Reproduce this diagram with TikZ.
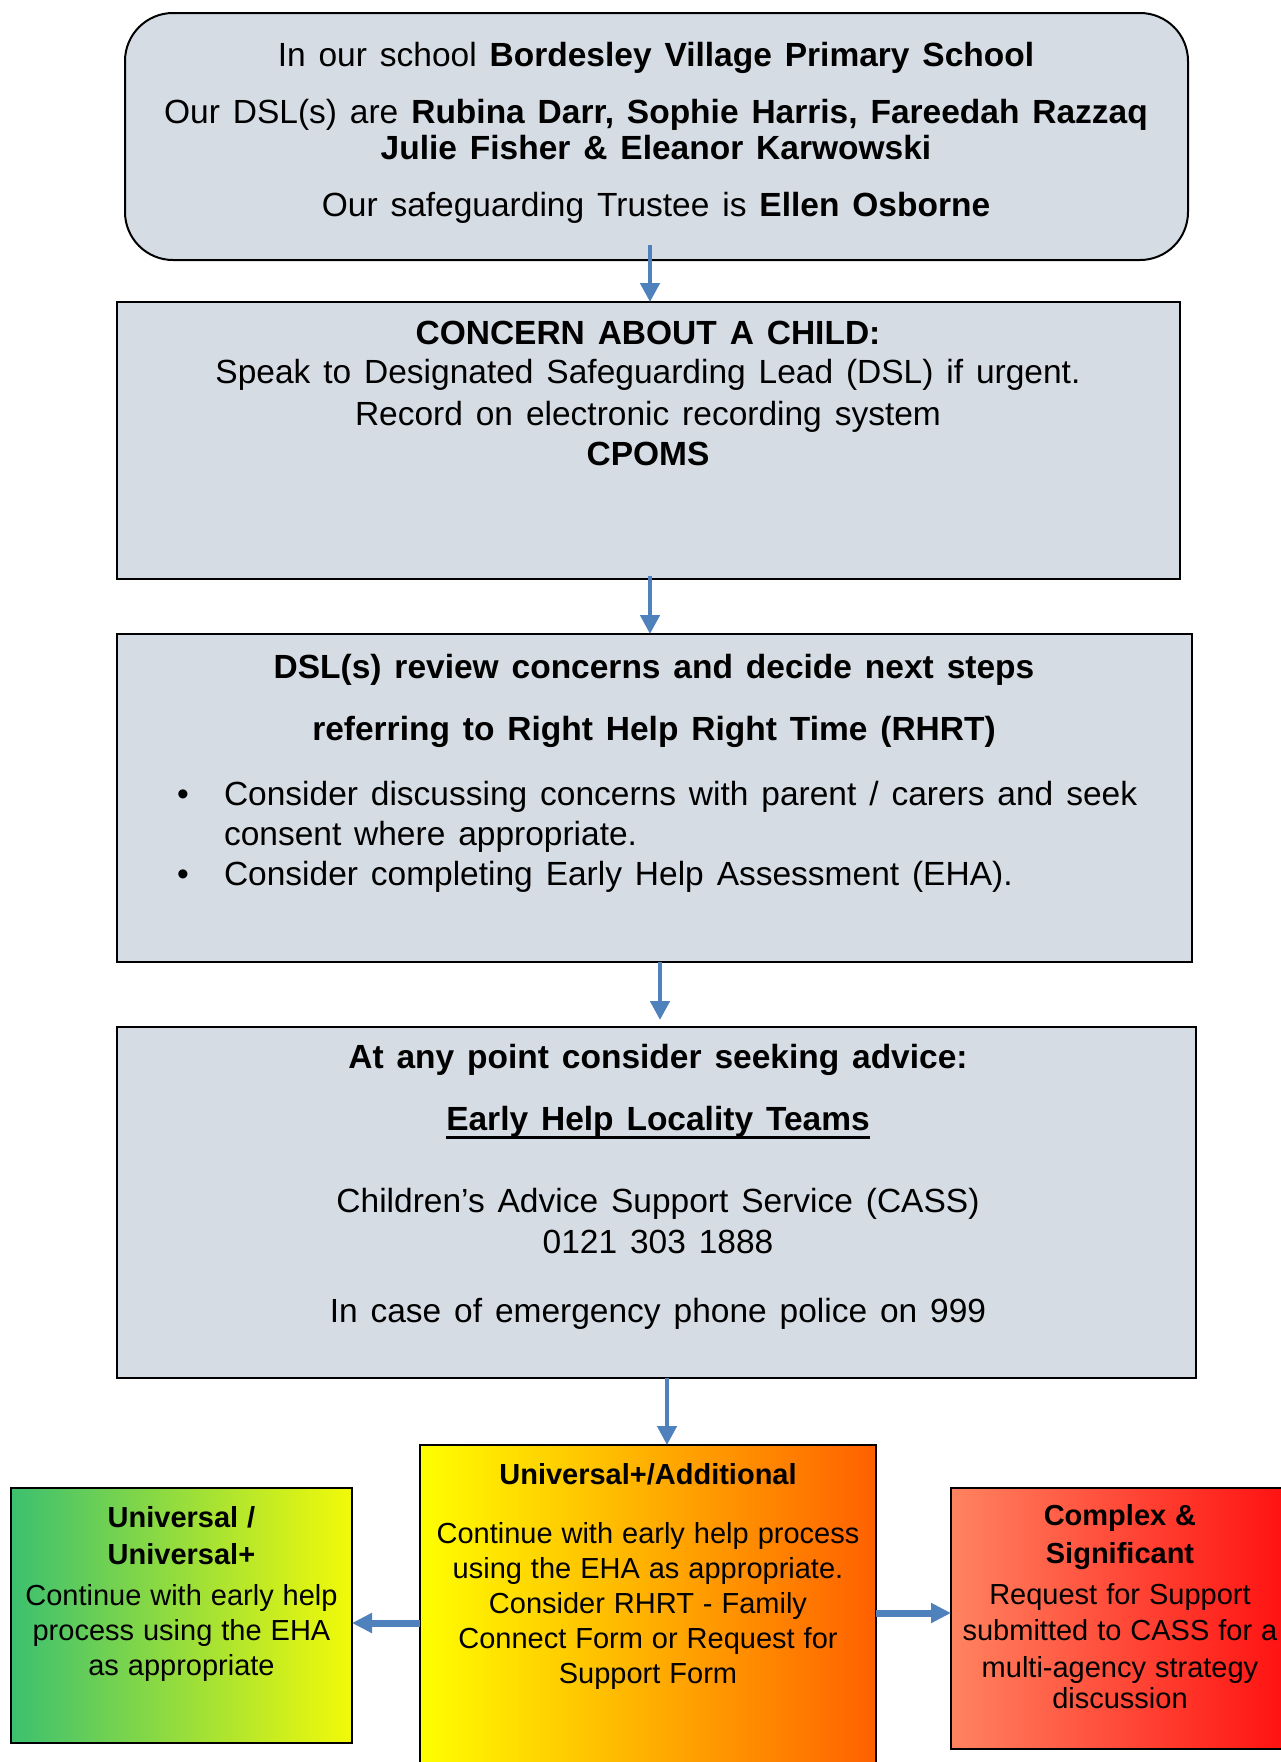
\documentclass[tikz,border=0pt]{standalone}
\usepackage{fontspec}
\setmainfont{Liberation Sans}
\usetikzlibrary{arrows.meta,calc}
\definecolor{boxfill}{HTML}{D5DCE4}
\definecolor{arrowblue}{HTML}{4F81BD}
\definecolor{greenL}{HTML}{3CC070}
\definecolor{yellowR}{HTML}{F2FA08}
\definecolor{orangeR}{HTML}{FF6000}
\definecolor{salmonL}{HTML}{FF8360}
\definecolor{redR}{HTML}{FF1010}
\newcommand{\myBigFont}{\fontsize{33.5}{40}\selectfont\setlength{\spaceskip}{0.385em}}
\newcommand{\mySmallFont}{\fontsize{29}{35}\selectfont\setlength{\spaceskip}{0.31em}}
\tikzset{
  box/.style={draw=black, line width=2pt, fill=boxfill, inner sep=0pt, outer sep=0pt, anchor=north west},
  txt/.style={inner sep=0pt, outer sep=0pt, anchor=base, font=\myBigFont},
  txtw/.style={txt, anchor=base west},
  stxt/.style={inner sep=0pt, outer sep=0pt, anchor=base, font=\mySmallFont},
  varrow/.style={draw=arrowblue, line width=4.5pt, -{Triangle[width=19pt,length=19pt]}},
  harrow/.style={draw=arrowblue, line width=7pt, -{Triangle[width=19pt,length=20pt]}},
}
\begin{document}
\begin{tikzpicture}[x=1pt,y=-1pt]
\useasboundingbox (0,0) rectangle (1281,1762);
\clip (0,0) rectangle (1281,1762);
\fill[white] (0,0) rectangle (1281,1762);

% boxes
\node[box, rounded corners=48pt, minimum width=1063pt, minimum height=247pt] (b1) at (125,13) {};
\node[box, minimum width=1063pt, minimum height=277pt] (b2) at (117,302) {};
\node[box, minimum width=1075pt, minimum height=328pt] (b3) at (117,634) {};
\node[box, minimum width=1079pt, minimum height=351pt] (b4) at (117,1027) {};
\node[box, left color=yellow, right color=orangeR, middle color=yellow!50!orangeR, minimum width=456pt, minimum height=400pt] (bm) at (420,1445) {};
\node[box, left color=greenL, right color=yellowR, minimum width=341pt, minimum height=255pt] (bl) at (11,1488) {};
\node[box, left color=salmonL, right color=redR, minimum width=340pt, minimum height=261pt] (br) at (951,1488) {};

% arrow x / y references
\coordinate (a1) at (650,0);
\coordinate (a3) at (660,0);
\coordinate (a4) at (667,0);
\coordinate (ly) at (0,1623);
\coordinate (ry) at (0,1613);

% connectors
\draw[varrow] ($(b1.south -| a1)+(0,-15)$) -- (b2.north -| a1);
\draw[varrow] ($(b2.south -| a1)+(0,-3)$) -- (b3.north -| a1);
\draw[varrow] (b3.south -| a3) -- ($(b4.north -| a3)+(0,-7)$);
\draw[varrow] (b4.south -| a4) -- (bm.north -| a4);
\draw[harrow] (bm.west |- ly) -- (bl.east |- ly);
\draw[harrow] (bm.east |- ry) -- (br.west |- ry);

% top box text
\node[txt] (t1) at (656,66) {In our school \textbf{Bordesley Village Primary School}};
\node[txt] (t2) at (656,123) {Our DSL(s) are \textbf{Rubina Darr, Sophie Harris, Fareedah Razzaq}};
\node[txt] (t3) at (656,159) {\textbf{Julie Fisher \& Eleanor Karwowski}};
\node[txt] (t4) at (656,216) {Our safeguarding Trustee is \textbf{Ellen Osborne}};

% box 2
\node[txt] (c1) at (648,344) {\textbf{CONCERN ABOUT A CHILD:}};
\node[txt] (c2) at (648,383) {Speak to Designated Safeguarding Lead (DSL) if urgent.};
\node[txt] (c3) at (648,425) {Record on electronic recording system};
\node[txt] (c4) at (648,465) {\textbf{CPOMS}};

% box 3
\node[txt] (d1) at (654,678) {\textbf{DSL(s) review concerns and decide next steps}};
\node[txt] (d2) at (654,740) {\textbf{referring to Right Help Right Time (RHRT)}};
\node[txt] (d3b) at (183,805) {•};
\node[txtw] (d3) at (224,805) {Consider discussing concerns with parent / carers and seek};
\node[txtw] (d4) at (224,845) {consent where appropriate.};
\node[txt] (d5b) at (183,885) {•};
\node[txtw] (d5) at (224,885) {Consider completing Early Help Assessment (EHA).};

% box 4
\node[txt] (e1) at (658,1068) {\textbf{At any point consider seeking advice:}};
\node[txt] (e2) at (658,1130) {\textbf{Early Help Locality Teams}};
\draw[line width=3pt] ($(e2.base west)+(0,7)$) -- ($(e2.base east)+(0,7)$);
\node[txt] (e3) at (658,1212) {Children’s Advice Support Service (CASS)};
\node[txt] (e4) at (658,1253) {0121 303 1888};
\node[txt] (e5) at (658,1322) {In case of emergency phone police on 999};

% middle box
\node[stxt] (m1) at (648,1484) {\textbf{Universal+/Additional}};
\node[stxt] (m2) at (648,1543) {Continue with early help process};
\node[stxt] (m3) at (648,1578) {using the EHA as appropriate.};
\node[stxt] (m4) at (648,1613) {Consider RHRT - Family};
\node[stxt] (m5) at (648,1648) {Connect Form or Request for};
\node[stxt] (m6) at (648,1683) {Support Form};

% left box
\node[stxt] (l1) at (181.5,1527) {\textbf{Universal /}};
\node[stxt] (l2) at (181.5,1564) {\textbf{Universal+}};
\node[stxt] (l3) at (181.5,1605) {Continue with early help};
\node[stxt] (l4) at (181.5,1640) {process using the EHA};
\node[stxt] (l5) at (181.5,1675) {as appropriate};

% right box
\node[stxt] (r1) at (1120,1525) {\textbf{Complex \&}};
\node[stxt] (r2) at (1120,1563) {\textbf{Significant}};
\node[stxt] (r3) at (1120,1604) {Request for Support};
\node[stxt] (r4) at (1120,1640) {submitted to CASS for a};
\node[stxt] (r5) at (1120,1677) {multi-agency strategy};
\node[stxt] (r6) at (1120,1708) {discussion};
\end{tikzpicture}
\end{document}
